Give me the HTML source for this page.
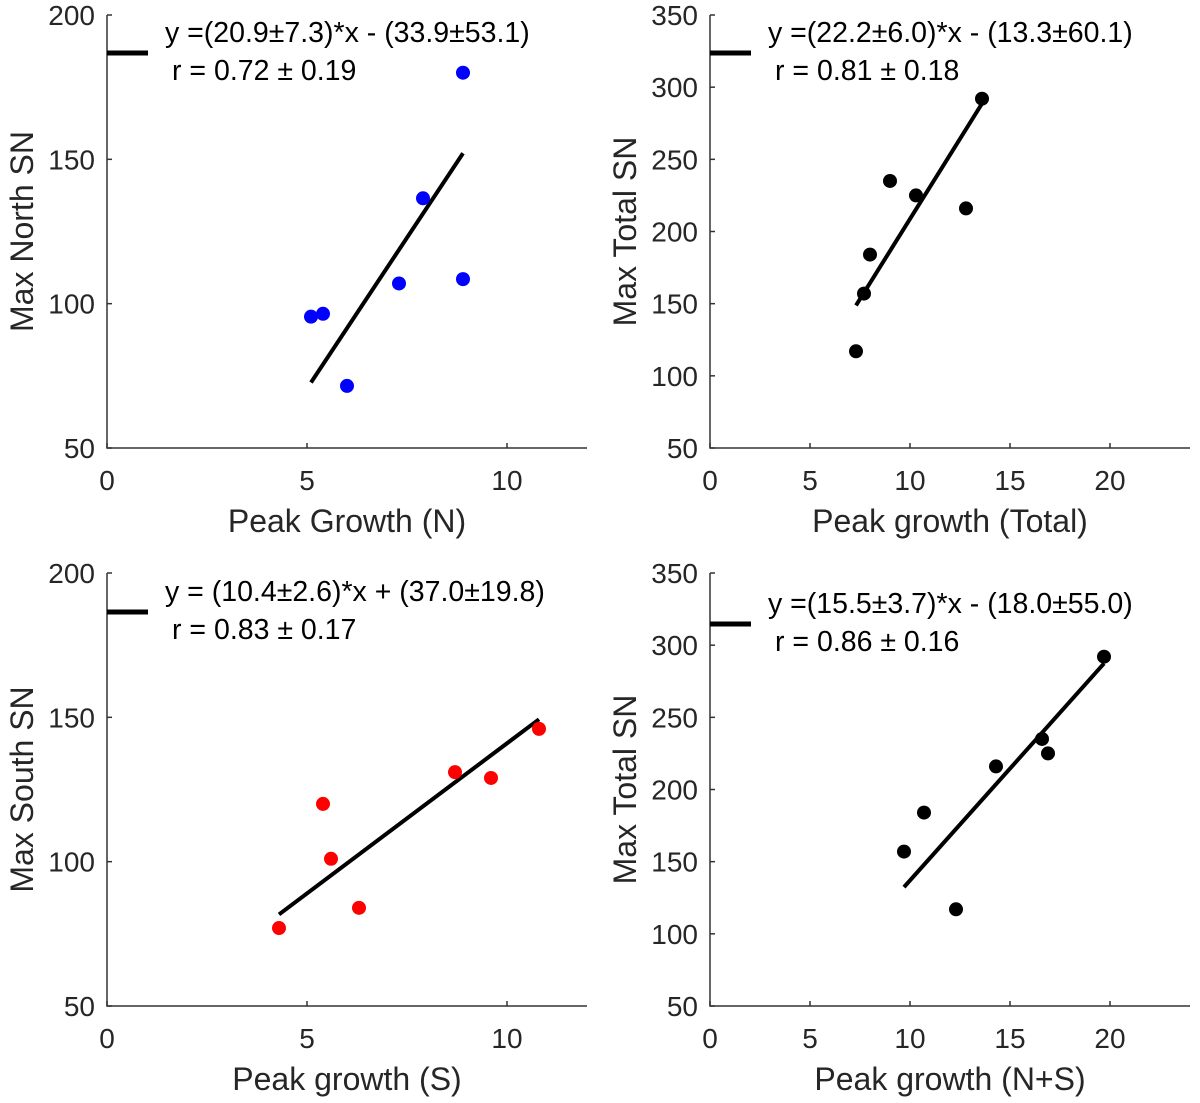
<!DOCTYPE html>
<html><head><meta charset="utf-8"><style>
body{margin:0;background:#fff;}
svg{display:block;font-family:"Liberation Sans",sans-serif;}
</style></head><body>
<svg id="fig" width="1200" height="1103" viewBox="0 0 1200 1103" xmlns="http://www.w3.org/2000/svg"></svg>
<script>
// Panel 1: North
const p1X = [5.1, 5.4, 6.0, 7.3, 7.9, 8.9, 8.9];
const p1Y = [95.5, 96.5, 71.5, 107, 136.5, 180, 108.5];
const p1Fit = [20.9, -33.9];
// Panel 2: Total
const p2X = [7.3, 7.7, 8.0, 9.0, 10.3, 12.8, 13.6];
const p2Y = [117, 157, 184, 235, 225, 216, 292];
const p2Fit = [22.2, -13.3];
// Panel 3: South
const p3X = [4.3, 5.4, 5.6, 6.3, 8.7, 9.6, 10.8];
const p3Y = [77, 120, 101, 84, 131, 129, 146];
const p3Fit = [10.4, 37.0];
// Panel 4: N+S
const p4X = [9.7, 10.7, 12.3, 14.3, 16.6, 16.9, 19.7];
const p4Y = [157, 184, 117, 216, 235, 225, 292];
const p4Fit = [15.5, -18.0];

const xt1 = [0, 5, 10], xt2 = [0, 5, 10, 15, 20];
const yt1 = [50, 100, 150, 200], yt2 = [50, 100, 150, 200, 250, 300, 350];

const NS = "http://www.w3.org/2000/svg";
const svg = document.getElementById('fig');
function el(tag, attrs, parent, text) {
  const e = document.createElementNS(NS, tag);
  for (const k in attrs) e.setAttribute(k, attrs[k]);
  if (text !== undefined) e.textContent = text;
  (parent || svg).appendChild(e);
  return e;
}

const panels = [
  {id:'north', x0:107, x1:587, xmin:0, xmax:12, top:15, bot:448, ymin:50, ymax:200, xs:p1X, ys:p1Y, fit:p1Fit, color:'#0000ff', xt:xt1, yt:yt1, xl:'Peak Growth (N)', yl:'Max North SN', eq:'y =(20.9±7.3)*x - (33.9±53.1)', r:'r = 0.72 ± 0.19', legY:53},
  {id:'total', x0:710, x1:1190, xmin:0, xmax:24, top:15, bot:448, ymin:50, ymax:350, xs:p2X, ys:p2Y, fit:p2Fit, color:'#000000', xt:xt2, yt:yt2, xl:'Peak growth (Total)', yl:'Max Total SN', eq:'y =(22.2±6.0)*x - (13.3±60.1)', r:'r = 0.81 ± 0.18', legY:53},
  {id:'south', x0:107, x1:587, xmin:0, xmax:12, top:573, bot:1006, ymin:50, ymax:200, xs:p3X, ys:p3Y, fit:p3Fit, color:'#ff0000', xt:xt1, yt:yt1, xl:'Peak growth (S)', yl:'Max South SN', eq:'y = (10.4±2.6)*x + (37.0±19.8)', r:'r = 0.83 ± 0.17', legY:612},
  {id:'ns', x0:710, x1:1190, xmin:0, xmax:24, top:573, bot:1006, ymin:50, ymax:350, xs:p4X, ys:p4Y, fit:p4Fit, color:'#000000', xt:xt2, yt:yt2, xl:'Peak growth (N+S)', yl:'Max Total SN', eq:'y =(15.5±3.7)*x - (18.0±55.0)', r:'r = 0.86 ± 0.16', legY:624}
];

panels.forEach(p => {
  const g = el('g', {});
  
  
  const sx = v => p.x0 + (v - p.xmin) / (p.xmax - p.xmin) * (p.x1 - p.x0);
  const sy = v => p.bot - (v - p.ymin) / (p.ymax - p.ymin) * (p.bot - p.top);
  const ax = el('path', {d:`M${p.x0} ${p.top}V${p.bot}H${p.x1}`, stroke:'#333', 'stroke-width':1.5, fill:'none'}, g);
  
  
  p.xt.forEach(t => {
    const x = sx(t);
    el('line', {x1:x, x2:x, y1:p.bot, y2:p.bot-5, stroke:'#333', 'stroke-width':1.5}, g);
    const tl = el('text', {x:x, y:p.bot+42, 'text-anchor':'middle', 'font-size':28, fill:'#262626'}, g, String(t));
    
    
  });
  p.yt.forEach(t => {
    const y = sy(t);
    el('line', {x1:p.x0, x2:p.x0+5, y1:y, y2:y, stroke:'#333', 'stroke-width':1.5}, g);
    const tl = el('text', {x:p.x0-12, y:y+10, 'text-anchor':'end', 'font-size':28, fill:'#262626'}, g, String(t));
    
    
  });
  const xl = el('text', {x:(p.x0+p.x1)/2, y:p.bot+84, 'text-anchor':'middle', 'font-size':32, fill:'#262626'}, g, p.xl);
  
  
  const ycx = p.x0 - 85, ycy = (p.top + p.bot) / 2;
  const yl = el('text', {x:ycx, y:ycy, 'text-anchor':'middle', 'font-size':32, fill:'#262626', transform:`rotate(-90 ${ycx} ${ycy})`, dy:11}, g, p.yl);
  
  
  // fit line
  const xa = Math.min(...p.xs), xb = Math.max(...p.xs);
  const fl = el('line', {x1:sx(xa), y1:sy(p.fit[0]*xa+p.fit[1]), x2:sx(xb), y2:sy(p.fit[0]*xb+p.fit[1]), stroke:'#000', 'stroke-width':4}, g);
  
  
  p.xs.forEach((v, i) => {
    const c = el('circle', {cx:sx(v), cy:sy(p.ys[i]), r:7, fill:p.color}, g);
    
    
  });
  // legend
  const lg = el('g', {}, g);
  
  
  el('line', {x1:p.x0, x2:p.x0+41, y1:p.legY, y2:p.legY, stroke:'#000', 'stroke-width':5}, lg);
  el('text', {x:p.x0+58, y:p.legY-11, 'font-size':28.5, fill:'#000'}, lg, p.eq);
  el('text', {x:p.x0+65, y:p.legY+27, 'font-size':28.5, fill:'#000'}, lg, p.r);
});
</script>
</body></html>
